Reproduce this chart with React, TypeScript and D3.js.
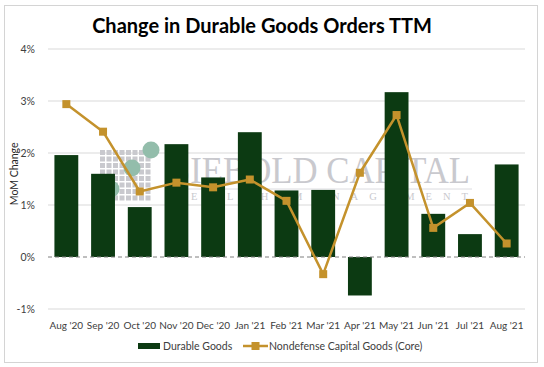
import * as d3 from "d3";
import { useRef, useEffect, ReactElement } from "react";

// chart data (values in %)
const months = ["Aug '20", "Sep '20", "Oct '20", "Nov '20", "Dec '20", "Jan '21", "Feb '21", "Mar '21", "Apr '21", "May '21", "Jun '21", "Jul '21", "Aug '21"];
const durableGoods = [1.96, 1.60, 0.96, 2.17, 1.53, 2.40, 1.28, 1.29, -0.74, 3.17, 0.83, 0.44, 1.78];
const coreCapitalGoods = [2.94, 2.41, 1.26, 1.43, 1.34, 1.49, 1.08, -0.33, 1.62, 2.73, 0.56, 1.04, 0.26];
const yTicks = [-1, 0, 1, 2, 3, 4];

const BAR_COLOR = "#0c3a12";
const LINE_COLOR = "#c4922c";
const FONT = "Lato, 'Open Sans', sans-serif";

const App = (): ReactElement => {
    const width = 544;
    const height = 367;
    const margin = { top: 49, bottom: 58, left: 48, right: 19 };
    const svgRef = useRef<SVGSVGElement>(null);

    useEffect(() => {
        if (!svgRef.current) return;
        const svg = d3.select(svgRef.current);

        const x = d3.scaleBand()
            .domain(months)
            .range([margin.left, width - margin.right])
            .paddingInner(0.35)
            .paddingOuter(0.175);

        const y = d3.scaleLinear()
            .domain([-1, 4])
            .range([height - margin.bottom, margin.top]);

        // outer frame
        svg.append("rect")
            .attr("x", 4.5).attr("y", 5.5)
            .attr("width", 533).attr("height", 357)
            .attr("fill", "#fff")
            .attr("stroke", "#d4d4d4");

        // title
        svg.append("text")
            .attr("x", 262).attr("y", 33)
            .attr("text-anchor", "middle")
            .attr("font-family", FONT)
            .attr("font-weight", "bold")
            .attr("font-size", 20)
            .text("Change in Durable Goods Orders TTM");

        // gridlines + y labels
        svg.append("g")
            .selectAll("line")
            .data(yTicks.filter(t => t !== 0))
            .enter()
            .append("line")
                .attr("x1", margin.left).attr("x2", width - margin.right)
                .attr("y1", d => y(d)).attr("y2", d => y(d))
                .attr("stroke", "#d9d9d9");

        svg.append("g")
            .attr("transform", "translate(" + (margin.left - 10) + ",0)")
            .call(d3.axisLeft(y).tickValues(yTicks).tickFormat(d => d + "%").tickSize(0))
            .call(g => g.select(".domain").remove())
            .selectAll("text")
                .attr("font-family", FONT)
                .attr("font-size", 10.5)
                .attr("fill", "#404040");

        // axis title
        svg.append("text")
            .attr("transform", "translate(18," + y(1.6) + ") rotate(-90)")
            .attr("text-anchor", "middle")
            .attr("font-family", FONT)
            .attr("font-size", 10.5)
            .attr("fill", "#262626")
            .text("MoM Change");

        // watermark (sits behind the bars)
        const wm = svg.append("g");
        const sq = d3.range(8);
        sq.forEach(r => sq.forEach(c => {
            wm.append("rect")
                .attr("x", 100 + c * 6.5).attr("y", 150 + r * 6.5)
                .attr("width", 5).attr("height", 5)
                .attr("fill", "#c9c9ce");
        }));
        [[151, 150], [132, 168], [111, 189]].forEach(([cx, cy]) => {
            wm.append("circle")
                .attr("cx", cx).attr("cy", cy).attr("r", 8.5)
                .attr("fill", "#93bdab");
        });
        wm.append("text")
            .attr("x", 171).attr("y", 183)
            .attr("font-family", "'Liberation Serif', serif")
            .attr("font-size", 37)
            .attr("textLength", 299)
            .attr("lengthAdjust", "spacingAndGlyphs")
            .attr("fill", "#c9c9ce")
            .text("SIEBOLD CAPITAL");
        wm.append("line")
            .attr("x1", 170).attr("x2", 472).attr("y1", 189).attr("y2", 189)
            .attr("stroke", "#dcdce0");
        wm.append("text")
            .attr("x", 170).attr("y", 200)
            .attr("font-family", "'Liberation Serif', serif")
            .attr("font-size", 10.5)
            .attr("textLength", 298)
            .attr("fill", "#c9c9ce")
            .text("WEALTH MANAGEMENT");

        // bars
        svg.append("g")
            .selectAll("rect")
            .data(durableGoods)
            .enter()
            .append("rect")
                .attr("x", (d, i) => x(months[i])!)
                .attr("y", d => y(Math.max(0, d)))
                .attr("width", x.bandwidth())
                .attr("height", d => Math.abs(y(d) - y(0)))
                .attr("fill", BAR_COLOR);

        // zero line (dashed)
        svg.append("line")
            .attr("x1", margin.left).attr("x2", width - margin.right)
            .attr("y1", y(0)).attr("y2", y(0))
            .attr("stroke", "#7f7f7f")
            .attr("stroke-dasharray", "4,3");

        // line series
        const cx = (i: number) => x(months[i])! + x.bandwidth() / 2;
        const line = d3.line<number>()
            .x((d, i) => cx(i))
            .y(d => y(d));
        svg.append("path")
            .datum(coreCapitalGoods)
            .attr("d", line)
            .attr("fill", "none")
            .attr("stroke", LINE_COLOR)
            .attr("stroke-width", 2.5)
            .attr("stroke-linejoin", "round");
        svg.append("g")
            .selectAll("rect")
            .data(coreCapitalGoods)
            .enter()
            .append("rect")
                .attr("x", (d, i) => cx(i) - 4)
                .attr("y", d => y(d) - 4)
                .attr("width", 8).attr("height", 8)
                .attr("fill", LINE_COLOR);

        // x labels
        svg.append("g")
            .attr("transform", "translate(0," + (height - margin.bottom + 10) + ")")
            .call(d3.axisBottom(x).tickSize(0))
            .call(g => g.select(".domain").remove())
            .selectAll("text")
                .attr("font-family", FONT)
                .attr("font-size", 10)
                .attr("fill", "#404040");

        // legend
        const lg = svg.append("g").attr("font-family", FONT).attr("font-size", 10.5).attr("fill", "#404040");
        lg.append("rect").attr("x", 138).attr("y", 343).attr("width", 22).attr("height", 6).attr("fill", BAR_COLOR);
        lg.append("text").attr("x", 163).attr("y", 350).text("Durable Goods");
        lg.append("line").attr("x1", 243).attr("x2", 268).attr("y1", 346).attr("y2", 346)
            .attr("stroke", LINE_COLOR).attr("stroke-width", 2.5);
        lg.append("rect").attr("x", 251.5).attr("y", 342).attr("width", 8).attr("height", 8).attr("fill", LINE_COLOR);
        lg.append("text").attr("x", 269).attr("y", 350).text("Nondefense Capital Goods (Core)");

        return () => {
            svg.selectAll("*").remove();
        };
    }, []);

    return (
        <svg width={width} height={height} ref={svgRef}
            style={{ position: "absolute", left: 0, top: 0 }}></svg>
    );
};

export default App;
